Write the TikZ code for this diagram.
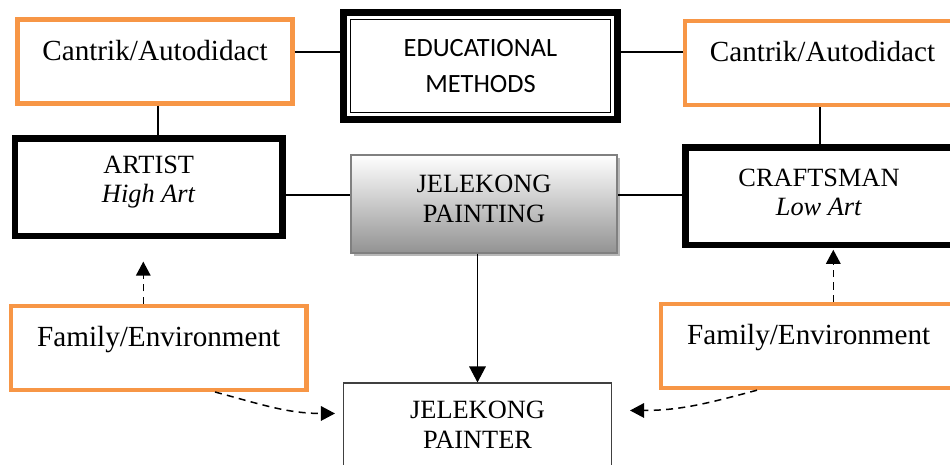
\documentclass[tikz,border=0pt]{standalone}
\usepackage{fontspec}
\setmainfont{Liberation Serif}
\newfontfamily\sansfnt{Carlito}
\usepackage{tikz}
\usetikzlibrary{arrows.meta,shadows}
\definecolor{boxorange}{HTML}{F79646}

\begin{document}
\begin{tikzpicture}[scale=0.2]
			\tikzstyle{every node}+=[inner sep=0pt]
			\tikzstyle{orangebox}=[draw=boxorange, line width=2.5pt, minimum width=5.5cm, minimum height=1.68cm, text height=0.7em, text depth=0.85em, font=\fontsize{16.6}{20}\selectfont]
			\tikzstyle{widebox}=[orangebox, minimum width=5.91cm]
			\tikzstyle{rolebox}=[draw, line width=3.8pt, minimum width=5.35cm, minimum height=1.954cm, align=center, font=\fontsize{15}{17}\selectfont]
			\tikzstyle{conn}=[line width=0.85pt]
			\tikzstyle{dasharr}=[conn, dash pattern=on 4pt off 3pt, -{Triangle[length=0.28cm,width=0.29cm]}]
			\useasboundingbox (0,0) rectangle (95,-46.4);
			% top row
			\node [orangebox] (cantL) at (15.5,-6.15) {Cantrik/Autodidact};
			\node [orangebox, minimum width=6.5cm] (cantR) at (84.75,-6.3) {Cantrik/Autodidact\hspace*{1cm}};
			\node [draw, line width=4pt, minimum width=5.48cm, minimum height=2.14cm, align=center, font=\sansfnt\fontsize{15}{21}\selectfont] (edu) at (48.05,-6.6) {EDUCATIONAL\\METHODS};
			\draw [line width=1.1pt] ([shift={(1.05,1.05)}]edu.south west) rectangle ([shift={(-1.05,-1.05)}]edu.north east);
			% middle row
			\node [rolebox] (artist) at (14.875,-18.72) {ARTIST\\\textit{High Art}\rule[-9pt]{0pt}{9pt}};
			\node [rolebox, minimum width=6.35cm] (crafts) at (84.4,-19.62) {CRAFTSMAN\hspace*{1cm}\\\textit{Low Art}\hspace*{1cm}\rule[-4.5pt]{0pt}{4.5pt}};
			\node [draw=gray, line width=0.85pt, top color=white, bottom color=gray!85, drop shadow={shadow xshift=0.06, shadow yshift=-0.06, fill=gray!70, opacity=0.8}, minimum width=5.32cm, minimum height=1.96cm, align=center, font=\fontsize{15}{17}\selectfont] (paint) at (48.4,-20.4) {JELEKONG\\PAINTING\rule[-6pt]{0pt}{6pt}};
			% bottom row
			\node [widebox] (famL) at (15.87,-34.78) {Family/Environment};
			\node [widebox, minimum width=6.91cm] (famR) at (83.37,-34.6) {Family/Environment\hspace*{1cm}};
			\node [draw=black!75, line width=0.6pt, minimum width=5.36cm, minimum height=1.68cm, align=center, font=\fontsize{15}{17}\selectfont] (painter) at (47.75,-42.5) {JELEKONG\\PAINTER};
			% connectors
			\draw [conn] (cantL.east |- 0,-5.2) -- (edu.west |- 0,-5.2);
			\draw [conn] (cantR.west |- 0,-5.2) -- (edu.east |- 0,-5.2);
			\draw [conn] (cantL.south -| 15.8,0) -- (artist.north -| 15.8,0);
			\draw [conn] (cantR.south -| 82,0) -- (crafts.north -| 82,0);
			\draw [conn] (artist.east |- 0,-19.5) -- (paint.west |- 0,-19.5);
			\draw [conn] (crafts.west |- 0,-19.5) -- (paint.east |- 0,-19.5);
			\draw [conn, -{Triangle[length=0.32cm,width=0.33cm]}] (paint.south -| painter.north) -- (painter.north);
			\draw [dasharr] (famL.north -| 14.33,0) -- ++(0,4.2);
			\draw [dasharr] (famR.north -| 83.33,0) -- ++(0,5.2);
			\draw [dasharr] (famL.south -| 21.5,0) to [out=-15,in=180] ([shift={(-0.8,-3.1)}]painter.north west);
			\draw [dasharr] (famR.south -| 75.7,0) to [out=-165,in=0] ([shift={(1.8,-2.8)}]painter.north east);
\end{tikzpicture}
\end{document}
